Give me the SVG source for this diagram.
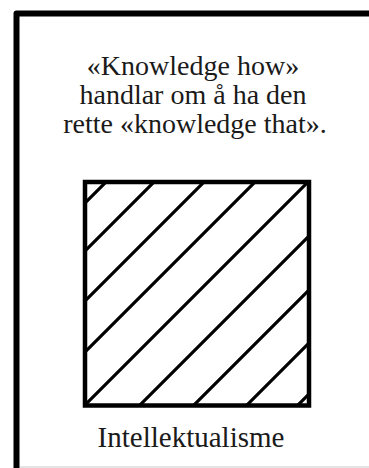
<svg xmlns="http://www.w3.org/2000/svg" width="369" height="468" viewBox="0 0 369 468">
<style>
.t{font-family:"Liberation Serif","Times New Roman",serif;font-size:28px;fill:#1a1a1a;text-anchor:middle}
.h{stroke:#000;stroke-width:3.2;fill:none}
</style>
<rect width="369" height="468" fill="#fff"/>
<g id="frame">
<path d="M16.5,468 V13.5 H372" fill="none" stroke="#000" stroke-width="6" stroke-linejoin="round"/>
<line x1="20" y1="467" x2="369" y2="467" stroke="#c8c8c8" stroke-width="1"/>
</g>
<g id="statement">
<text class="t" x="193" y="75">«Knowledge how»</text>
<text class="t" x="193" y="104">handlar om å ha den</text>
<text class="t" x="195" y="133">rette «knowledge that».</text>
</g>
<g id="hatched-square">
<defs><clipPath id="sq"><rect x="85" y="182" width="224" height="223.5"/></clipPath></defs>
<g clip-path="url(#sq)">
<line class="h" x1="0" y1="288" x2="288" y2="0"/>
<line class="h" x1="0" y1="336" x2="336" y2="0"/>
<line class="h" x1="0" y1="386" x2="386" y2="0"/>
<line class="h" x1="0" y1="437" x2="437" y2="0"/>
<line class="h" x1="0" y1="490" x2="490" y2="0"/>
<line class="h" x1="0" y1="545" x2="545" y2="0"/>
<line class="h" x1="0" y1="599" x2="599" y2="0"/>
<line class="h" x1="0" y1="652" x2="652" y2="0"/>
<line class="h" x1="0" y1="703" x2="703" y2="0"/>
</g>
<rect x="85" y="182" width="224" height="223.5" fill="none" stroke="#000" stroke-width="4.5"/>
<text class="t" x="191" y="447" style="font-size:29px">Intellektualisme</text>
</g>
</svg>
